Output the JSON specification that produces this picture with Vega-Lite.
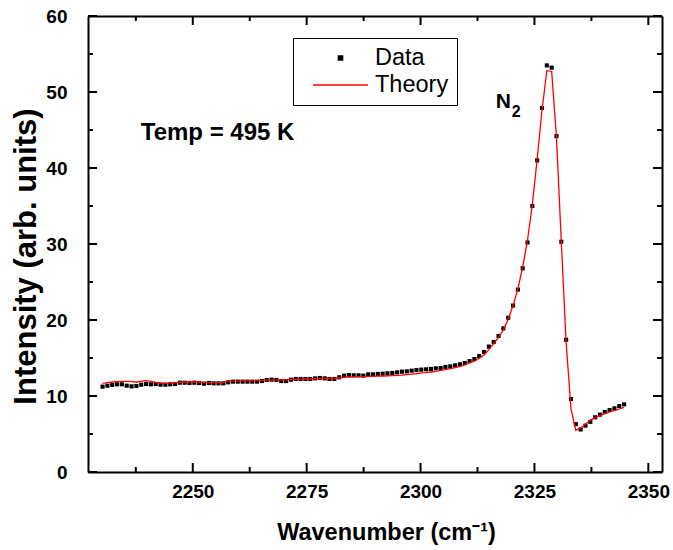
{
  "$schema": "https://vega.github.io/schema/vega-lite/v6.json",
  "width": 574,
  "height": 456,
  "autosize": "none",
  "padding": {"left": 88, "top": 16, "right": 11, "bottom": 78},
  "background": "white",
  "config": {
    "view": {"stroke": null},
    "font": "Liberation Sans",
    "axis": {
      "domainColor": "black",
      "domainWidth": 2,
      "grid": false,
      "labelFont": "Liberation Sans",
      "labelFontWeight": "bold",
      "labelFontSize": 19,
      "labelColor": "black",
      "titleFont": "Liberation Sans",
      "titleFontWeight": "bold",
      "titleColor": "black"
    }
  },
  "datasets": {
    "spectrum": [
      {"w": 2230.2, "Data": 11.23, "Theory": 11.67},
      {"w": 2231.26, "Data": 11.36, "Theory": 11.75},
      {"w": 2232.32, "Data": 11.45, "Theory": 11.84},
      {"w": 2233.38, "Data": 11.54, "Theory": 11.89},
      {"w": 2234.44, "Data": 11.54, "Theory": 11.93},
      {"w": 2235.5, "Data": 11.36, "Theory": 11.93},
      {"w": 2236.56, "Data": 11.27, "Theory": 11.89},
      {"w": 2237.62, "Data": 11.32, "Theory": 11.84},
      {"w": 2238.68, "Data": 11.49, "Theory": 11.93},
      {"w": 2239.74, "Data": 11.58, "Theory": 12.02},
      {"w": 2240.8, "Data": 11.54, "Theory": 11.93},
      {"w": 2241.86, "Data": 11.58, "Theory": 11.8},
      {"w": 2242.92, "Data": 11.49, "Theory": 11.71},
      {"w": 2243.98, "Data": 11.49, "Theory": 11.67},
      {"w": 2245.04, "Data": 11.54, "Theory": 11.71},
      {"w": 2246.1, "Data": 11.58, "Theory": 11.75},
      {"w": 2247.16, "Data": 11.75, "Theory": 11.8},
      {"w": 2248.22, "Data": 11.75, "Theory": 11.84},
      {"w": 2249.28, "Data": 11.71, "Theory": 11.84},
      {"w": 2250.34, "Data": 11.75, "Theory": 11.84},
      {"w": 2251.4, "Data": 11.71, "Theory": 11.84},
      {"w": 2252.46, "Data": 11.62, "Theory": 11.8},
      {"w": 2253.52, "Data": 11.71, "Theory": 11.75},
      {"w": 2254.58, "Data": 11.67, "Theory": 11.75},
      {"w": 2255.64, "Data": 11.67, "Theory": 11.75},
      {"w": 2256.7, "Data": 11.67, "Theory": 11.75},
      {"w": 2257.76, "Data": 11.8, "Theory": 11.95},
      {"w": 2258.82, "Data": 11.89, "Theory": 11.96},
      {"w": 2259.88, "Data": 11.89, "Theory": 11.97},
      {"w": 2260.94, "Data": 11.89, "Theory": 11.98},
      {"w": 2262.0, "Data": 11.89, "Theory": 11.99},
      {"w": 2263.06, "Data": 11.89, "Theory": 12.0},
      {"w": 2264.12, "Data": 11.89, "Theory": 12.02},
      {"w": 2265.18, "Data": 11.97, "Theory": 12.05},
      {"w": 2266.24, "Data": 12.11, "Theory": 12.08},
      {"w": 2267.3, "Data": 12.15, "Theory": 12.1},
      {"w": 2268.36, "Data": 12.11, "Theory": 12.1},
      {"w": 2269.42, "Data": 11.97, "Theory": 12.1},
      {"w": 2270.48, "Data": 11.97, "Theory": 12.12},
      {"w": 2271.54, "Data": 12.15, "Theory": 12.15},
      {"w": 2272.6, "Data": 12.24, "Theory": 12.18},
      {"w": 2273.66, "Data": 12.24, "Theory": 12.2},
      {"w": 2274.72, "Data": 12.24, "Theory": 12.22},
      {"w": 2275.78, "Data": 12.24, "Theory": 12.24},
      {"w": 2276.84, "Data": 12.32, "Theory": 12.27},
      {"w": 2277.9, "Data": 12.37, "Theory": 12.3},
      {"w": 2278.96, "Data": 12.32, "Theory": 12.3},
      {"w": 2280.02, "Data": 12.24, "Theory": 12.3},
      {"w": 2281.08, "Data": 12.24, "Theory": 12.33},
      {"w": 2282.14, "Data": 12.46, "Theory": 12.4},
      {"w": 2283.2, "Data": 12.68, "Theory": 12.46},
      {"w": 2284.26, "Data": 12.76, "Theory": 12.5},
      {"w": 2285.32, "Data": 12.72, "Theory": 12.52},
      {"w": 2286.38, "Data": 12.72, "Theory": 12.54},
      {"w": 2287.44, "Data": 12.68, "Theory": 12.55},
      {"w": 2288.5, "Data": 12.85, "Theory": 12.57},
      {"w": 2289.56, "Data": 12.85, "Theory": 12.59},
      {"w": 2290.62, "Data": 12.9, "Theory": 12.61},
      {"w": 2291.68, "Data": 12.93, "Theory": 12.63},
      {"w": 2292.74, "Data": 12.98, "Theory": 12.65},
      {"w": 2293.8, "Data": 13.03, "Theory": 12.68},
      {"w": 2294.86, "Data": 13.11, "Theory": 12.72},
      {"w": 2295.92, "Data": 13.2, "Theory": 12.76},
      {"w": 2296.98, "Data": 13.24, "Theory": 12.83},
      {"w": 2298.04, "Data": 13.33, "Theory": 12.87},
      {"w": 2299.1, "Data": 13.42, "Theory": 12.93},
      {"w": 2300.16, "Data": 13.47, "Theory": 13.03},
      {"w": 2301.22, "Data": 13.51, "Theory": 13.07},
      {"w": 2302.28, "Data": 13.55, "Theory": 13.16},
      {"w": 2303.34, "Data": 13.64, "Theory": 13.25},
      {"w": 2304.4, "Data": 13.68, "Theory": 13.36},
      {"w": 2305.46, "Data": 13.82, "Theory": 13.47},
      {"w": 2306.52, "Data": 13.9, "Theory": 13.6},
      {"w": 2307.58, "Data": 14.03, "Theory": 13.73},
      {"w": 2308.64, "Data": 14.17, "Theory": 13.9},
      {"w": 2309.7, "Data": 14.34, "Theory": 14.08},
      {"w": 2310.76, "Data": 14.6, "Theory": 14.34},
      {"w": 2311.82, "Data": 14.86, "Theory": 14.6},
      {"w": 2312.88, "Data": 15.26, "Theory": 14.96},
      {"w": 2313.94, "Data": 15.79, "Theory": 15.4},
      {"w": 2315.0, "Data": 16.5, "Theory": 16.1},
      {"w": 2316.06, "Data": 17.1, "Theory": 16.9},
      {"w": 2317.12, "Data": 17.9, "Theory": 17.7},
      {"w": 2318.18, "Data": 18.9, "Theory": 18.7},
      {"w": 2319.24, "Data": 20.3, "Theory": 20.1},
      {"w": 2320.3, "Data": 21.9, "Theory": 21.9},
      {"w": 2321.36, "Data": 24.0, "Theory": 24.1},
      {"w": 2322.42, "Data": 26.8, "Theory": 27.0},
      {"w": 2323.48, "Data": 30.2, "Theory": 30.5},
      {"w": 2324.54, "Data": 35.0, "Theory": 35.2},
      {"w": 2325.6, "Data": 41.0, "Theory": 41.2},
      {"w": 2326.66, "Data": 47.9, "Theory": 47.6},
      {"w": 2327.72, "Data": 53.5, "Theory": 52.8},
      {"w": 2328.78, "Data": 53.2, "Theory": 52.7},
      {"w": 2329.84, "Data": 44.2, "Theory": 44.0},
      {"w": 2330.9, "Data": 30.3, "Theory": 30.2},
      {"w": 2331.96, "Data": 17.4, "Theory": 17.0},
      {"w": 2333.02, "Data": 9.6, "Theory": 8.3},
      {"w": 2334.08, "Data": 6.3, "Theory": 5.5},
      {"w": 2335.14, "Data": 5.6, "Theory": 5.8},
      {"w": 2336.2, "Data": 6.1, "Theory": 6.33},
      {"w": 2337.26, "Data": 6.6, "Theory": 6.8},
      {"w": 2338.32, "Data": 7.2, "Theory": 7.16},
      {"w": 2339.38, "Data": 7.55, "Theory": 7.42},
      {"w": 2340.44, "Data": 7.9, "Theory": 7.68},
      {"w": 2341.5, "Data": 8.16, "Theory": 7.9},
      {"w": 2342.56, "Data": 8.38, "Theory": 8.07},
      {"w": 2343.62, "Data": 8.68, "Theory": 8.29},
      {"w": 2344.68, "Data": 8.9, "Theory": 8.5}
    ]
  },
  "layer": [
    {
      "data": {"name": "spectrum"},
      "transform": [
        {"fold": ["Data", "Theory"], "as": ["series", "intensity"]},
        {"filter": "datum.series === 'Data'"}
      ],
      "mark": {"type": "point", "filled": true, "size": 3025, "opacity": 1},
      "encoding": {
        "x": {
          "field": "w", "type": "quantitative",
          "scale": {"domain": [2227, 2353], "nice": false, "zero": false},
          "axis": {
            "orient": "bottom",
            "values": [2250, 2275, 2300, 2325, 2350],
            "format": "d",
            "ticks": false,
            "labelPadding": 10,
            "title": "Wavenumber (cm⁻¹)",
            "titleFontSize": 23.5,
            "titleX": 298,
            "titleY": 67,
            "titleAlign": "center",
            "titleBaseline": "alphabetic"
          }
        },
        "y": {
          "field": "intensity", "type": "quantitative",
          "scale": {"domain": [0, 60], "nice": false},
          "axis": {
            "orient": "left",
            "values": [0, 10, 20, 30, 40, 50, 60],
            "ticks": false,
            "labelPadding": 21,
            "title": "Intensity (arb. units)",
            "titleFontSize": 31,
            "titleX": -53,
            "titleY": 240,
            "titleAlign": "center",
            "titleAngle": -90,
            "titleBaseline": "alphabetic"
          }
        },
        "color": {
          "field": "series", "type": "nominal",
          "scale": {"domain": ["Data", "Theory"], "range": ["black", "red"]},
          "legend": {
            "orient": "none",
            "legendX": 205,
            "legendY": 22,
            "title": null,
            "strokeColor": "black",
            "fillColor": "white",
            "padding": 8,
            "labelFont": "Liberation Sans",
            "labelFontSize": 23.5,
            "labelColor": "black",
            "labelOffset": 6,
            "symbolOffset": 11,
            "clipHeight": 24,
            "symbolSize": 3025,
            "symbolStrokeWidth": 1.5,
            "rowPadding": 3
          }
        },
        "shape": {
          "field": "series", "type": "nominal",
          "scale": {"domain": ["Data", "Theory"], "range": ["M-0.075,-0.075H0.075V0.075H-0.075Z", "stroke"]}
        }
      }
    },
    {
      "data": {"name": "spectrum"},
      "transform": [
        {"fold": ["Data", "Theory"], "as": ["series", "intensity"]},
        {"filter": "datum.series === 'Theory'"}
      ],
      "mark": {"type": "line", "strokeWidth": 1.3, "color": "red"},
      "encoding": {
        "x": {
          "field": "w", "type": "quantitative",
          "axis": {"orient": "top", "labels": false, "ticks": false, "title": null}
        },
        "y": {
          "field": "intensity", "type": "quantitative",
          "axis": {"orient": "right", "labels": false, "ticks": false, "title": null}
        },
        "color": {"field": "series", "type": "nominal"}
      }
    },
    {
      "data": {"values": [{"v": 2250}, {"v": 2275}, {"v": 2300}, {"v": 2325}, {"v": 2350}]},
      "mark": {"type": "tick", "orient": "vertical", "color": "black", "size": 9, "thickness": 2, "opacity": 1},
      "encoding": {
        "x": {"field": "v", "type": "quantitative", "axis": null},
        "y": {"datum": 0.59, "type": "quantitative", "axis": null}
      }
    },
    {
      "data": {"values": [{"v": 2250}, {"v": 2275}, {"v": 2300}, {"v": 2325}, {"v": 2350}]},
      "mark": {"type": "tick", "orient": "vertical", "color": "black", "size": 9, "thickness": 2, "opacity": 1},
      "encoding": {
        "x": {"field": "v", "type": "quantitative", "axis": null},
        "y": {"datum": 59.41, "type": "quantitative", "axis": null}
      }
    },
    {
      "data": {"values": [{"v": 2237.5}, {"v": 2262.5}, {"v": 2287.5}, {"v": 2312.5}, {"v": 2337.5}]},
      "mark": {"type": "tick", "orient": "vertical", "color": "black", "size": 5, "thickness": 2, "opacity": 1},
      "encoding": {
        "x": {"field": "v", "type": "quantitative", "axis": null},
        "y": {"datum": 0.33, "type": "quantitative", "axis": null}
      }
    },
    {
      "data": {"values": [{"v": 2237.5}, {"v": 2262.5}, {"v": 2287.5}, {"v": 2312.5}, {"v": 2337.5}]},
      "mark": {"type": "tick", "orient": "vertical", "color": "black", "size": 5, "thickness": 2, "opacity": 1},
      "encoding": {
        "x": {"field": "v", "type": "quantitative", "axis": null},
        "y": {"datum": 59.67, "type": "quantitative", "axis": null}
      }
    },
    {
      "data": {"values": [{"v": 0}, {"v": 10}, {"v": 20}, {"v": 30}, {"v": 40}, {"v": 50}, {"v": 60}]},
      "mark": {"type": "tick", "orient": "horizontal", "color": "black", "size": 9, "thickness": 2, "opacity": 1},
      "encoding": {
        "y": {"field": "v", "type": "quantitative", "axis": null},
        "x": {"datum": 2227.99, "type": "quantitative", "axis": null}
      }
    },
    {
      "data": {"values": [{"v": 0}, {"v": 10}, {"v": 20}, {"v": 30}, {"v": 40}, {"v": 50}, {"v": 60}]},
      "mark": {"type": "tick", "orient": "horizontal", "color": "black", "size": 9, "thickness": 2, "opacity": 1},
      "encoding": {
        "y": {"field": "v", "type": "quantitative", "axis": null},
        "x": {"datum": 2352.01, "type": "quantitative", "axis": null}
      }
    },
    {
      "data": {"values": [{"v": 5}, {"v": 15}, {"v": 25}, {"v": 35}, {"v": 45}, {"v": 55}]},
      "mark": {"type": "tick", "orient": "horizontal", "color": "black", "size": 5, "thickness": 2, "opacity": 1},
      "encoding": {
        "y": {"field": "v", "type": "quantitative", "axis": null},
        "x": {"datum": 2227.55, "type": "quantitative", "axis": null}
      }
    },
    {
      "data": {"values": [{"v": 5}, {"v": 15}, {"v": 25}, {"v": 35}, {"v": 45}, {"v": 55}]},
      "mark": {"type": "tick", "orient": "horizontal", "color": "black", "size": 5, "thickness": 2, "opacity": 1},
      "encoding": {
        "y": {"field": "v", "type": "quantitative", "axis": null},
        "x": {"datum": 2352.45, "type": "quantitative", "axis": null}
      }
    },
    {
      "data": {"values": [{}]},
      "mark": {"type": "text", "text": "Temp = 495 K", "font": "Liberation Sans", "fontWeight": "bold", "fontSize": 24, "align": "left", "baseline": "alphabetic", "color": "black"},
      "encoding": {
        "x": {"datum": 2238.58, "type": "quantitative", "axis": null},
        "y": {"datum": 43.68, "type": "quantitative", "axis": null}
      }
    },
    {
      "data": {"values": [{}]},
      "mark": {"type": "text", "text": "N", "font": "Liberation Sans", "fontWeight": "bold", "fontSize": 21, "align": "left", "baseline": "alphabetic", "color": "black"},
      "encoding": {
        "x": {"datum": 2316.53, "type": "quantitative", "axis": null},
        "y": {"datum": 47.83, "type": "quantitative", "axis": null}
      }
    },
    {
      "data": {"values": [{}]},
      "mark": {"type": "text", "text": "2", "font": "Liberation Sans", "fontWeight": "bold", "fontSize": 16, "align": "left", "baseline": "alphabetic", "color": "black"},
      "encoding": {
        "x": {"datum": 2320.0, "type": "quantitative", "axis": null},
        "y": {"datum": 46.75, "type": "quantitative", "axis": null}
      }
    }
  ],
  "resolve": {"axis": {"x": "independent", "y": "independent"}}
}
